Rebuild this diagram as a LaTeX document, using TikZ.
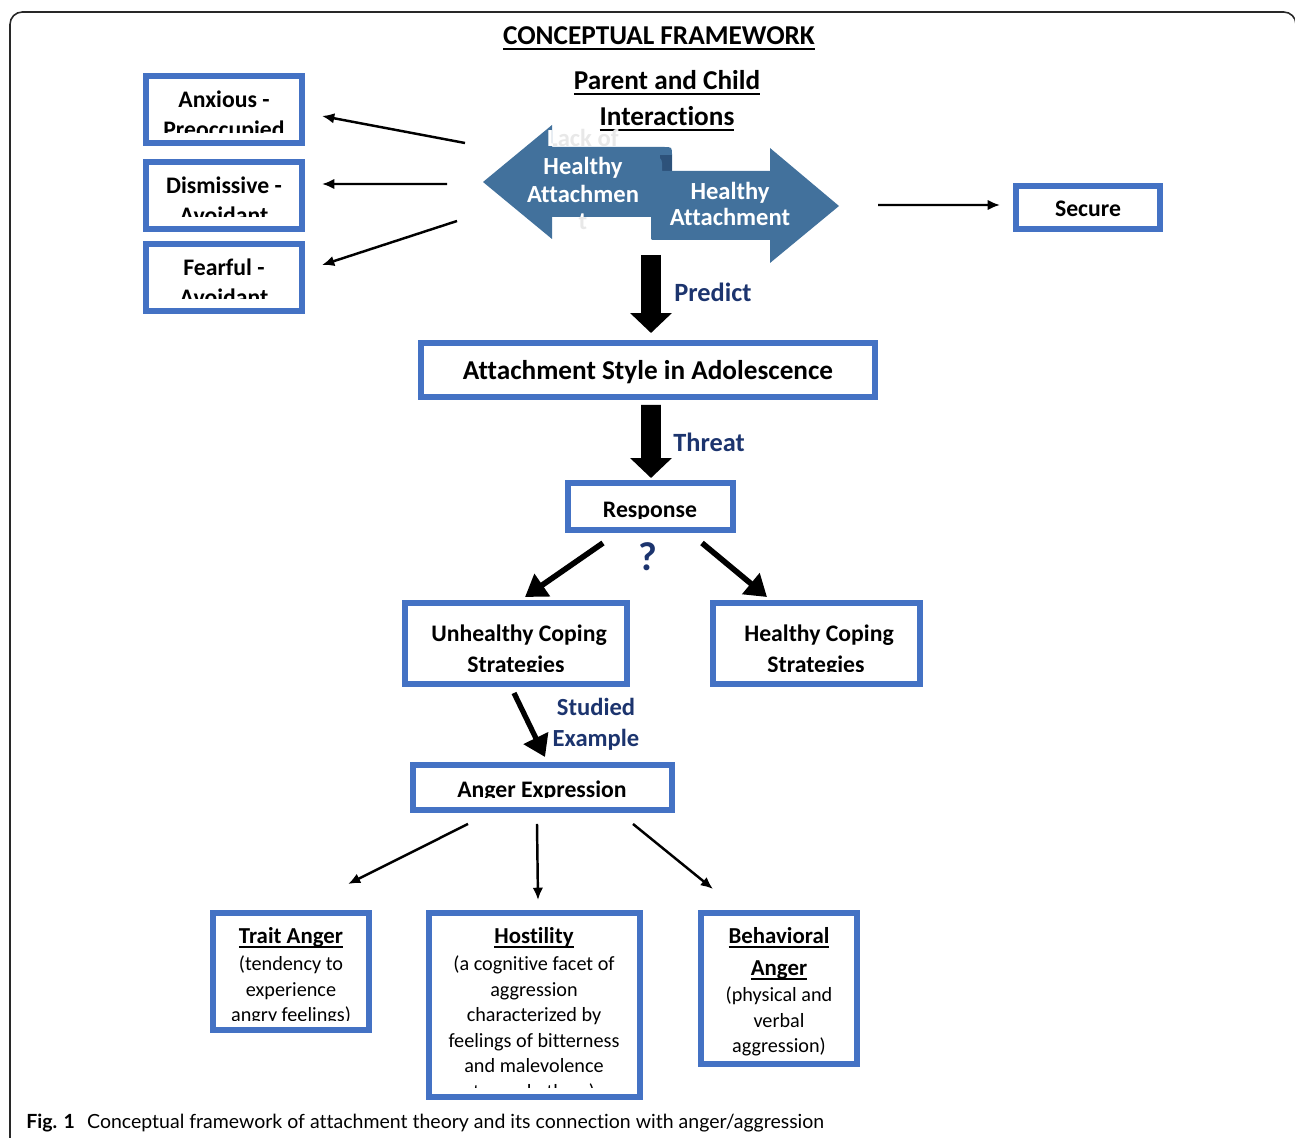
\documentclass[tikz,border=0pt]{standalone}
\usepackage{fontspec}
\setmainfont{Carlito}[Ligatures=NoCommon]
\newfontfamily\capfont{Lato}[Ligatures=NoCommon]
\usetikzlibrary{arrows.meta,calc,fit}
\definecolor{boxblue}{RGB}{68,114,196}
\definecolor{steel}{RGB}{66,113,156}
\definecolor{curldark}{RGB}{45,82,122}
\definecolor{navy}{RGB}{28,52,110}
\definecolor{framegray}{RGB}{40,40,40}
\newcommand\ulx[1]{\leavevmode\setbox0\hbox{#1}\rlap{\rule[-2.6pt]{\wd0}{1pt}}\box0}
\newcommand\leftarrowpath{(483,182) -- (552,125) -- (552,147) -- (664,147) .. controls (672,147) .. (672,155) -- (672,172) -- (651,172) -- (651,217) -- (552,217) -- (552,239) -- cycle}
\begin{document}
\begin{tikzpicture}[x=0.02cm,y=-0.02cm,
 bbox/.style={draw=boxblue,line width=3.4pt,inner sep=0pt},
 tl/.style={anchor=base,inner sep=0pt},
 fA/.style={font=\fontsize{15.5}{18}\selectfont\bfseries},
 fB/.style={font=\fontsize{13.5}{16}\selectfont\bfseries},
 fW/.style={font=\fontsize{14}{16}\selectfont\bfseries,text=white},
 fN/.style={font=\fontsize{15}{18}\selectfont\bfseries,text=navy},
 fH/.style={font=\fontsize{13}{15}\selectfont\bfseries},
 fR/.style={font=\fontsize{11.5}{14}\selectfont},
 tarr/.style={line width=1.4pt,-{Latex[length=7pt,width=6pt]}},
 karr/.style={line width=3.2pt,-{Triangle[length=12pt,width=15pt]}},
 barr/.style={line width=11.3pt,-{Triangle[length=11.3pt,width=23pt]}},
]
\useasboundingbox (0,0) rectangle (1295,1138);
% frame
\draw[framegray,line width=0.9pt,rounded corners=7pt] (10,1150) -- (10,12) -- (1296,12) -- (1296,1150);

% title
\node[tl,fA] (title) at (659,45) {\ulx{CONCEPTUAL FRAMEWORK}};
\node[tl,fA] (pc1) at (667,90) {\ulx{Parent and Child}};
\node[tl,fA] (pc2) at (667,126) {\ulx{Interactions}};

% double arrow
\fill[steel] \leftarrowpath;
\node[tl,fW,text=black!9] (lk1g) at (583,147) {Lack of};
\node[tl,fW,text=black!9] (lk4g) at (583,230) {t};
\begin{scope}
\clip \leftarrowpath;
\node[tl,fW] (lk1) at (583,147) {Lack of};
\node[tl,fW] (lk4) at (583,230) {t};
\end{scope}
\fill[curldark] (660,155) -- (672,155) -- (672,172) -- (660,172) -- cycle;
\fill[steel] (651,236) -- (651,163) .. controls (651,155) and (662,155) .. (662,163) -- (662,171) -- (770,171) -- (770,148) -- (839,206) -- (770,263) -- (770,240) -- (655,240) .. controls (651,240) .. (651,236) -- cycle;
\node[tl,fW] (lk2) at (583,175) {Healthy};
\node[tl,fW] (lk3) at (583,203) {Attachmen};
\node[tl,fW] (ha1) at (730,200) {Healthy};
\node[tl,fW] (ha2) at (730,226) {Attachment};

% left boxes
\node[bbox,fit={(146,76)(302,143)}] (anx) {};
\node[bbox,fit={(146,162)(302,229)}] (dis) {};
\node[bbox,fit={(146,244)(302,311)}] (fear) {};
\begin{scope}
\clip (149,79) rectangle (300,133);
\node[tl,fB] (anxA) at (224,108) {Anxious -};
\node[tl,fB] (anxB) at (224,138) {Preoccupied};
\end{scope}
\begin{scope}
\clip (149,165) rectangle (300,217);
\node[tl,fB] (disA) at (224,194) {Dismissive -};
\node[tl,fB] (disB) at (224,224) {Avoidant};
\end{scope}
\begin{scope}
\clip (149,247) rectangle (300,299);
\node[tl,fB] (fearA) at (224,276) {Fearful -};
\node[tl,fB] (fearB) at (224,306) {Avoidant};
\end{scope}

\coordinate (p1) at (465,143);
\coordinate (p2) at (447,184);
\coordinate (p3) at (457,221);
\coordinate (p4) at (878,205);
\coordinate (p5) at (651,255);
\draw[tarr] (p1) -- ($(anx.east)+(17,6.5)$);
\draw[tarr] (p2) -- ($(dis.east)+(17,-11.5)$);
\draw[tarr] (p3) -- ($(fear.east)+(17,-12.5)$);

% secure
\node[bbox,fit={(1016,186)(1160,229)}] (sec) {};
\node[tl,fB] (secT) at (1088,217) {Secure};
\draw[tarr] (p4) -- ($(sec.west)+(-13,-2.5)$);

% predict
\node[bbox,fit={(421,343)(875,397)}] (att) {};
\node[tl,fA] (attT) at (648,380) {Attachment Style in Adolescence};
\draw[barr] (p5) -- ($(att.north)+(3,-7)$);
\node[tl,fN,anchor=base west] (pred) at (674,302) {Predict};

% threat
\node[bbox,fit={(568,483)(733,530)}] (resp) {};
\draw[barr] ($(att.south)+(3,5)$) -- ($(resp.north)+(0.5,-2)$);
\node[tl,fN,anchor=base west] (thr) at (673,452) {Threat};
\begin{scope}
\clip (571,486) rectangle (730,518);
\node[tl,fB] (respT) at (650,517) {Response};
\end{scope}
\node[tl,font=\fontsize{23}{26}\selectfont\bfseries,text=navy] (q) at (648,570) {?};

% coping
\node[bbox,fit={(405,603)(627,684)}] (unh) {};
\node[bbox,fit={(713,603)(920,684)}] (hcs) {};
\begin{scope}
\clip (408,606) rectangle (624,671);
\node[tl,fB] (unhA) at (519,641) {Unhealthy Coping};
\node[tl,fB] (unhB) at (516,672) {Strategies};
\end{scope}
\begin{scope}
\clip (716,606) rectangle (917,671);
\node[tl,fB] (hcsA) at (819,641) {Healthy Coping};
\node[tl,fB] (hcsB) at (816,672) {Strategies};
\end{scope}
\draw[karr] ($(resp.south)+(-47.5,10)$) -- ($(unh.north)+(9,-3)$);
\draw[karr] ($(resp.south)+(51.5,10)$) -- ($(hcs.north)+(-49.5,-3)$);

% studied example
\node[bbox,fit={(413,765)(672,810)}] (anger) {};
\begin{scope}
\clip (416,768) rectangle (669,797);
\node[tl,fB] (angerT) at (542,797) {Anger Expression};
\end{scope}
\draw[karr,line width=3pt] ($(unh.south)+(-2,6)$) -- ($(anger.north)+(2.5,-5)$);
\node[tl,fN,font=\fontsize{14}{16}\selectfont\bfseries] (st1) at (596,715) {Studied};
\node[tl,fN,font=\fontsize{14}{16}\selectfont\bfseries] (st2) at (596,746) {Example};

% bottom boxes
\node[bbox,fit={(213,913)(369,1030)}] (trait) {};
\node[bbox,fit={(429,913)(640,1097)}] (host) {};
\node[bbox,fit={(701,913)(857,1064)}] (beh) {};
\begin{scope}
\clip (216,916) rectangle (366,1020);
\node[tl,fH] (tr1) at (291,943) {\ulx{Trait Anger}};
\node[tl,fR] (tr2) at (291,970) {(tendency to};
\node[tl,fR] (tr3) at (291,996) {experience};
\node[tl,fR] (tr4) at (291,1021) {angry feelings)};
\end{scope}
\begin{scope}
\clip (432,916) rectangle (637,1087);
\node[tl,fH] (ho1) at (534,943) {\ulx{Hostility}};
\node[tl,fR] (ho2) at (534,970) {(a cognitive facet of};
\node[tl,fR] (ho3) at (534,996) {aggression};
\node[tl,fR] (ho4) at (534,1021) {characterized by};
\node[tl,fR] (ho5) at (534,1047) {feelings of bitterness};
\node[tl,fR] (ho6) at (534,1072) {and malevolence};
\node[tl,fR] (ho7) at (534,1098) {toward others)};
\end{scope}
\node[tl,fH] (be1) at (779,943) {\ulx{Behavioral}};
\node[tl,fH] (be2) at (779,975) {\ulx{Anger}};
\node[tl,fR] (be3) at (779,1001) {(physical and};
\node[tl,fR] (be4) at (779,1027) {verbal};
\node[tl,fR] (be5) at (779,1052) {aggression)};

\draw[tarr] ($(anger.south)+(-74.5,11)$) -- ($(trait.north)+(57,-26)$);
\draw[tarr] ($(anger.south)+(-5.5,11)$) -- ($(host.north)+(3.5,-10)$);
\draw[tarr] ($(anger.south)+(90.5,11)$) -- ($(beh.north)+(-66,-21)$);

% caption
\node[tl,anchor=base west,font=\capfont\fontsize{11.1}{13}\selectfont] (cap) at (26,1128) {\textbf{Fig. 1}\hspace{7pt}Conceptual framework of attachment theory and its connection with anger/aggression};
\end{tikzpicture}
\end{document}
